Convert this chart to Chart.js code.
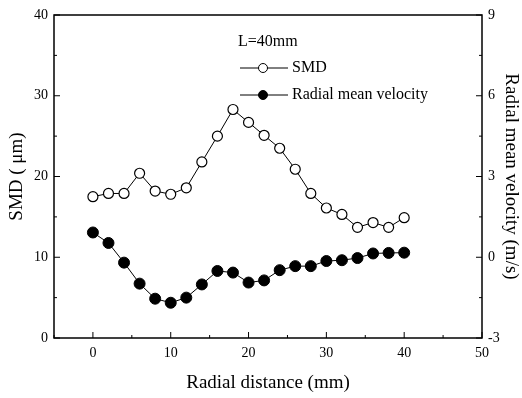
<!DOCTYPE html>
<html>
<head>
<meta charset="utf-8">
<script src="https://cdn.jsdelivr.net/npm/chart.js@4"></script>
<style>
  html, body { margin: 0; padding: 0; background: #fff; }
  #wrap { width: 522px; height: 398px; }
</style>
</head>
<body>
<div id="wrap"><canvas id="chart" width="522" height="398"></canvas></div>
<script>
const radialDistance = [0, 2, 4, 6, 8, 10, 12, 14, 16, 18, 20, 22, 24, 26, 28, 30, 32, 34, 36, 38, 40];
const smdValues = [17.5, 17.9, 17.9, 20.4, 18.2, 17.8, 18.6, 21.8, 25.0, 28.3, 26.7, 25.1, 23.5, 20.9, 17.9, 16.1, 15.3, 13.7, 14.3, 13.7, 14.9];
const velocityValues = [0.92, 0.53, -0.2, -0.98, -1.54, -1.69, -1.5, -1.01, -0.51, -0.57, -0.94, -0.86, -0.48, -0.33, -0.33, -0.14, -0.11, -0.03, 0.14, 0.16, 0.17];
const xTicks = [0, 10, 20, 30, 40, 50];
const xMinorTicks = [-5, 5, 15, 25, 35, 45];
const smdTicks = [0, 10, 20, 30, 40];
const smdMinorTicks = [5, 15, 25, 35];
const velTicks = [-3, 0, 3, 6, 9];
const velMinorTicks = [-1.5, 1.5, 4.5, 7.5];

const serif = '"Liberation Serif", "Times New Roman", serif';
const tickFont = { family: serif, size: 14 };

// frame, inward ticks and the legend block
const framePlugin = {
    id: 'frame',
    afterDraw(chart) {
        const c = chart.ctx;
        const a = chart.chartArea;
        const sx = chart.scales.x, sl = chart.scales.ySmd, sr = chart.scales.yVel;
        c.save();
        c.strokeStyle = '#000';
        c.lineWidth = 1.5;
        c.strokeRect(a.left, a.top, a.right - a.left, a.bottom - a.top);
        c.lineWidth = 1;
        c.beginPath();
        xTicks.forEach(v => { const p = sx.getPixelForValue(v); c.moveTo(p, a.bottom); c.lineTo(p, a.bottom - 6); });
        xMinorTicks.forEach(v => { const p = sx.getPixelForValue(v); c.moveTo(p, a.bottom); c.lineTo(p, a.bottom - 3); });
        smdTicks.forEach(v => { const p = sl.getPixelForValue(v); c.moveTo(a.left, p); c.lineTo(a.left + 6, p); });
        smdMinorTicks.forEach(v => { const p = sl.getPixelForValue(v); c.moveTo(a.left, p); c.lineTo(a.left + 3, p); });
        velTicks.forEach(v => { const p = sr.getPixelForValue(v); c.moveTo(a.right, p); c.lineTo(a.right - 6, p); });
        velMinorTicks.forEach(v => { const p = sr.getPixelForValue(v); c.moveTo(a.right, p); c.lineTo(a.right - 3, p); });
        c.stroke();

        // legend
        const lx = 240;
        c.fillStyle = '#000';
        c.font = '16px ' + serif;
        c.textBaseline = 'middle';
        c.textAlign = 'left';
        c.fillText('L=40mm', 238, 42);
        const rows = [
            { y: 68, label: 'SMD', fill: '#fff' },
            { y: 95, label: 'Radial mean velocity', fill: '#000' }
        ];
        rows.forEach(r => {
            c.beginPath();
            c.moveTo(lx, r.y); c.lineTo(lx + 48, r.y);
            c.stroke();
            c.beginPath();
            c.arc(lx + 23, r.y, 4.5, 0, Math.PI * 2);
            c.fillStyle = r.fill;
            c.fill();
            c.stroke();
            c.fillStyle = '#000';
            c.fillText(r.label, lx + 52, r.y);
        });
        c.restore();
    }
};

new Chart(document.getElementById('chart'), {
    type: 'line',
    data: {
        datasets: [
            {
                label: 'SMD',
                data: radialDistance.map((x, i) => ({ x: x, y: smdValues[i] })),
                yAxisID: 'ySmd',
                borderColor: '#000',
                borderWidth: 1,
                pointRadius: 5,
                pointBackgroundColor: '#fff',
                pointBorderColor: '#000',
                pointBorderWidth: 1.2,
                tension: 0
            },
            {
                label: 'Radial mean velocity',
                data: radialDistance.map((x, i) => ({ x: x, y: velocityValues[i] })),
                yAxisID: 'yVel',
                borderColor: '#000',
                borderWidth: 1,
                pointRadius: 5.5,
                pointBackgroundColor: '#000',
                pointBorderColor: '#000',
                pointBorderWidth: 1,
                tension: 0
            }
        ]
    },
    options: {
        responsive: false,
        animation: false,
        layout: { padding: { top: 15, left: 0, right: 0, bottom: 0 } },
        plugins: { legend: { display: false }, tooltip: { enabled: false } },
        scales: {
            x: {
                type: 'linear',
                min: -5, max: 50,
                afterBuildTicks: s => { s.ticks = xTicks.map(v => ({ value: v })); },
                afterFit: s => { s.height = 60; },
                grid: { display: false, drawTicks: false },
                border: { display: false },
                ticks: { color: '#000', font: tickFont, padding: 7 },
                title: { display: true, text: 'Radial distance (mm)', color: '#000', font: { family: serif, size: 19 }, padding: { top: 8 } }
            },
            ySmd: {
                position: 'left',
                min: 0, max: 40,
                afterBuildTicks: s => { s.ticks = smdTicks.map(v => ({ value: v })); },
                afterFit: s => { s.width = 54; },
                grid: { display: false, drawTicks: false },
                border: { display: false },
                ticks: { color: '#000', font: tickFont, padding: 6 },
                title: { display: true, text: 'SMD ( μm)', color: '#000', font: { family: serif, size: 19 }, padding: { top: 6, bottom: 0 } }
            },
            yVel: {
                position: 'right',
                min: -3, max: 9,
                afterBuildTicks: s => { s.ticks = velTicks.map(v => ({ value: v })); },
                afterFit: s => { s.width = 40; },
                grid: { display: false, drawTicks: false },
                border: { display: false },
                ticks: { color: '#000', font: tickFont, padding: 6 },
                title: { display: true, text: 'Radial mean velocity (m/s)', color: '#000', font: { family: serif, size: 19 }, padding: 0 }
            }
        }
    },
    plugins: [framePlugin]
});
</script>
</body>
</html>
